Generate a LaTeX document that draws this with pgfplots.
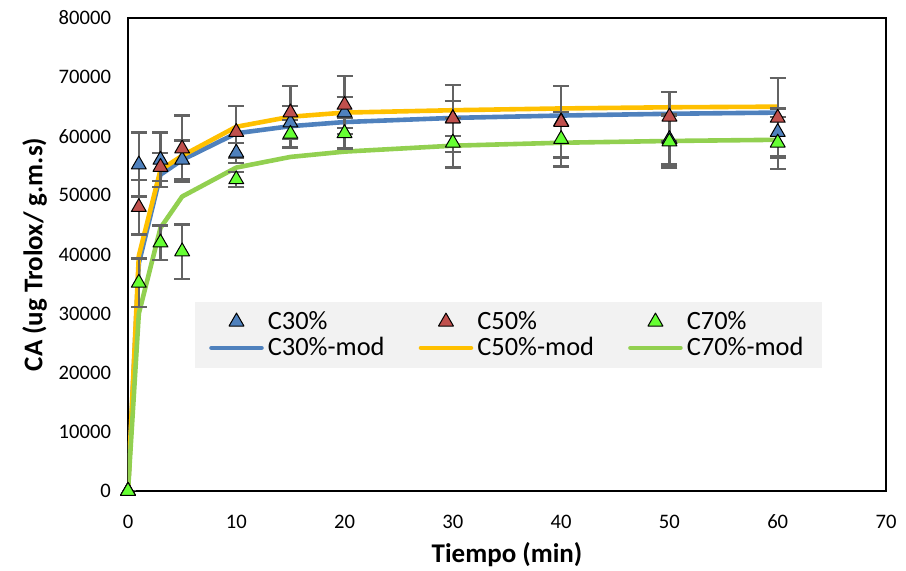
\documentclass[border=0pt]{standalone}
\usepackage{fontspec}
\setmainfont{Carlito}
\usepackage{pgfplots}
\pgfplotsset{compat=1.18}

\definecolor{c30}{HTML}{4F81BD}
\definecolor{c50}{HTML}{C0504D}
\definecolor{c70}{HTML}{66FF33}
\definecolor{m30}{HTML}{4F81BD}
\definecolor{m50}{HTML}{FFC000}
\definecolor{m70}{HTML}{92D050}
\definecolor{errgray}{HTML}{636363}

\pgfplotsset{
    markleg/.style={legend image code/.code={
        \path (0pt,0pt) (27pt,0pt);
        \draw[##1, mark repeat=2, mark phase=2] plot coordinates {(0pt,0pt)(13.5pt,0pt)(27pt,0pt)};}},
    lineleg/.style={legend image code/.code={
        \path (0pt,0pt) (27pt,0pt);
        \draw[#1, line width=2.3pt, line cap=round] (1pt,0pt) -- (26pt,0pt);}},
}

\begin{document}
\begin{tikzpicture}
\begin{axis}[
    scale only axis,
    width=379pt, height=236.5pt,
    xmin=0, xmax=70, ymin=0, ymax=80000,
    xtick={0,10,...,70},
    ytick={0,10000,...,80000},
    scaled y ticks=false,
    yticklabel style={/pgf/number format/fixed, /pgf/number format/1000 sep={}},
    /pgf/number format/assume math mode=true,
    tick label style={font=\fontsize{10.3}{11}\selectfont},
    major tick length=0pt,
    axis line style={black, line width=0.9pt},
    xlabel={\bfseries Tiempo (min)},
    ylabel={\bfseries CA (ug Trolox/ g.m.s)},
    label style={font=\fontsize{13.5}{14}\selectfont},
    xlabel style={yshift=0pt},
    ylabel style={yshift=-1pt},
    xticklabel style={yshift=-8.5pt},
    yticklabel style={xshift=-5pt},
    legend columns=3,
    legend cell align=left,
    legend style={at={(rel axis cs:0.088,0.40)}, anchor=north west,
        fill=black!5, draw=none, font=\fontsize{13.2}{14}\selectfont,
        /tikz/every even column/.append style={column sep=15pt},
        row sep=-1.5pt,
        inner xsep=7pt, inner ysep=2.5pt},
    every axis plot/.append style={line join=round},
    after end axis/.code={
        \coordinate (bl) at (rel axis cs:0,0);
        \coordinate (tr) at (rel axis cs:1,1);
    },
]
% model curves
\addplot[m30, line width=2.3pt, forget plot] coordinates {(0,0)(1,38500)(3,53500)(5,56000)(10,60500)(15,61700)(20,62400)(30,63100)(40,63500)(50,63800)(60,64000)};
\addplot[m50, line width=2.3pt, forget plot] coordinates {(0,0)(1,39800)(3,54300)(5,56700)(10,61600)(15,63300)(20,64000)(30,64400)(40,64700)(50,64900)(60,65000)};
\addplot[m70, line width=2.3pt, forget plot] coordinates {(0,0)(1,30000)(3,44500)(5,49800)(10,54700)(15,56500)(20,57400)(30,58400)(40,58900)(50,59200)(60,59400)};

% experimental data
\addplot[only marks, markleg, mark=triangle*, mark size=4.3pt, mark options={fill=c30, draw=black, line width=0.5pt},
    error bars/.cd, y dir=both, y explicit, error bar style={errgray, line width=1.2pt}, error mark options={rotate=90, mark size=4pt, errgray, line width=1.2pt}]
    coordinates {(0,0) +- (0,0) (1,55200) +- (0,5400) (3,56000) +- (0,4600) (5,56000) +- (0,3300) (10,57200) +- (0,1700) (15,62300) +- (0,2800) (20,64000) +- (0,2600) (30,63000) +- (0,3000) (40,62500) +- (0,6000) (50,59500) +- (0,4300) (60,60700) +- (0,4000)};
\addlegendentry{C30\%}
\addplot[only marks, markleg, mark=triangle*, mark size=4.3pt, mark options={fill=c50, draw=black, line width=0.5pt},
    error bars/.cd, y dir=both, y explicit, error bar style={errgray, line width=1.2pt}, error mark options={rotate=90, mark size=4pt, errgray, line width=1.2pt}]
    coordinates {(0,0) +- (0,0) (1,48000) +- (0,4600) (3,54800) +- (0,2400) (5,57900) +- (0,5600) (10,60700) +- (0,4400) (15,64000) +- (0,4500) (20,65300) +- (0,4900) (30,63000) +- (0,5700) (40,62400) +- (0,6100) (50,63300) +- (0,4200) (60,63100) +- (0,6800)};
\addlegendentry{C50\%}
\addplot[only marks, markleg, mark=triangle*, mark size=4.3pt, mark options={fill=c70, draw=black, line width=0.5pt},
    error bars/.cd, y dir=both, y explicit, error bar style={errgray, line width=1.2pt}, error mark options={rotate=90, mark size=4pt, errgray, line width=1.2pt}]
    coordinates {(0,0) +- (0,0) (1,35200) +- (0,4100) (3,42000) +- (0,2900) (5,40500) +- (0,4600) (10,52700) +- (0,1300) (15,60400) +- (0,2300) (20,60500) +- (0,2600) (30,58900) +- (0,4200) (40,59500) +- (0,4600) (50,59100) +- (0,4400) (60,58900) +- (0,4400)};
\addlegendentry{C70\%}

\addlegendimage{lineleg=m30}
\addlegendentry{C30\%-mod}
\addlegendimage{lineleg=m50}
\addlegendentry{C50\%-mod}
\addlegendimage{lineleg=m70}
\addlegendentry{C70\%-mod}
\end{axis}
\pgfresetboundingbox
\path ([xshift=-64pt,yshift=-40pt]bl) rectangle ([xshift=10pt,yshift=9pt]tr);
\end{tikzpicture}
\end{document}
